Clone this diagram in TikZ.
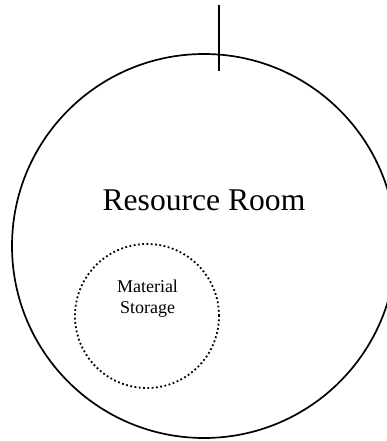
\documentclass[tikz,border=0pt]{standalone}
\usepackage{fontspec}
\setmainfont{Liberation Serif}
\begin{document}
\begin{tikzpicture}[x=1pt,y=-1pt,
  roomcircle/.style={draw, circle, minimum size=384pt, inner sep=0pt, line width=1.7pt},
  storecircle/.style={draw, circle, minimum size=144pt, inner sep=0pt, line width=1.8pt, dash pattern=on 1.8pt off 2.5pt},
  bigtext/.style={font=\fontsize{31.6}{36}\selectfont, anchor=base, inner sep=0pt},
  smalltext/.style={font=\fontsize{18}{20.5}\selectfont, anchor=base, inner sep=0pt}]
\useasboundingbox (0,0) rectangle (387,441);
\clip (0,0) rectangle (387,441);
\node[roomcircle] (room) at (204,246) {};
\node[storecircle] (storage) at (147,316) {};
\node[bigtext] (roomlabel) at (204,210) {Resource Room};
\node[smalltext] (mat) at (147.5,292.5) {Material};
\node[smalltext] (sto) at (147.5,313) {Storage};
\coordinate (ltop) at (219,5);
\coordinate (lbot) at (219,71);
\draw[line width=1.2pt] (ltop) -- (lbot);
\end{tikzpicture}
\end{document}
